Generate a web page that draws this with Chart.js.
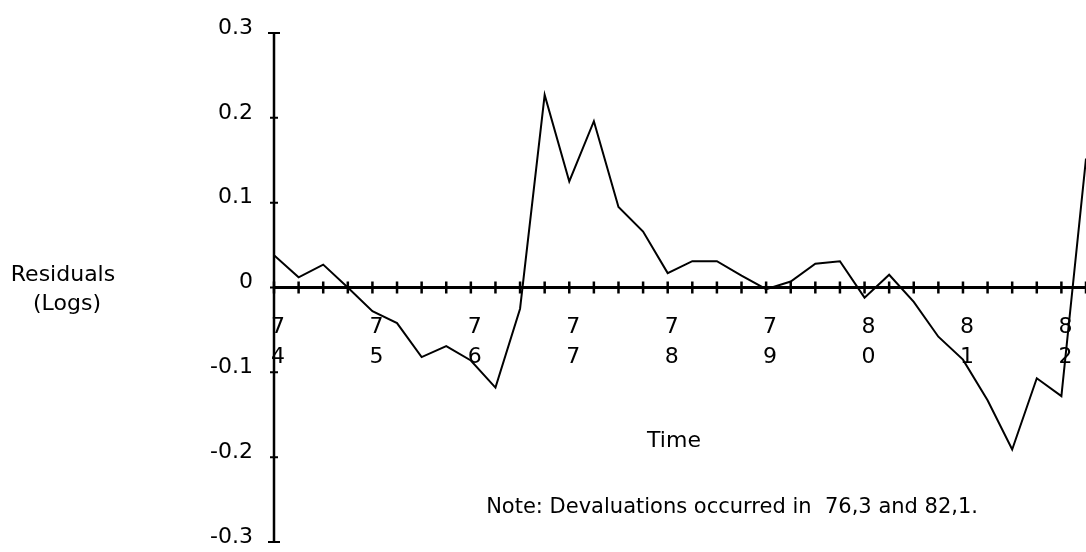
<!DOCTYPE html>
<html>
<head>
<meta charset="utf-8">
<script src="https://cdn.jsdelivr.net/npm/chart.js@4.4.1/dist/chart.umd.min.js"></script>
<style>
  html, body { margin: 0; padding: 0; background: #fff; }
  canvas { display: block; }
</style>
</head>
<body>
<canvas id="myChart" width="1086" height="552"></canvas>
<script>
// quarters 74,1 .. 82,2
const quarters = ['74,1','74,2','74,3','74,4','75,1','75,2','75,3','75,4','76,1','76,2','76,3','76,4',
  '77,1','77,2','77,3','77,4','78,1','78,2','78,3','78,4','79,1','79,2','79,3','79,4',
  '80,1','80,2','80,3','80,4','81,1','81,2','81,3','81,4','82,1','82,2'];
const residuals = [0.038, 0.012, 0.027, 0.0, -0.028, -0.042, -0.082, -0.069, -0.086, -0.118, -0.025, 0.227,
  0.125, 0.196, 0.095, 0.066, 0.017, 0.031, 0.031, 0.014, -0.002, 0.007, 0.028, 0.031,
  -0.012, 0.015, -0.017, -0.058, -0.085, -0.133, -0.191, -0.107, -0.128, 0.152];
const yearLabels = ['74','75','76','77','78','79','80','81','82'];
const yTickLabels = ['-0.3','-0.2','-0.1','0','0.1','0.2','0.3'];

const FONT = "'DejaVu Sans', sans-serif";

// axes drawn by hand so the ticks cross the lines like the original
const axesPlugin = {
  id: 'axes',
  beforeDatasetsDraw(chart) {
    const { ctx, scales: { x, y } } = chart;
    const x0 = x.getPixelForValue(0), x1 = x.getPixelForValue(quarters.length - 1);
    const yTop = y.getPixelForValue(0.3), yBot = y.getPixelForValue(-0.3), yZero = y.getPixelForValue(0);
    ctx.save();
    ctx.strokeStyle = '#000';
    ctx.lineCap = 'butt';

    // y axis
    ctx.lineWidth = 2.5;
    ctx.beginPath();
    ctx.moveTo(x0, yTop); ctx.lineTo(x0, yBot);
    ctx.stroke();
    ctx.lineWidth = 2;
    ctx.beginPath();
    ctx.moveTo(x0 - 6, yTop); ctx.lineTo(x0 + 6, yTop);
    ctx.moveTo(x0 - 6, yBot); ctx.lineTo(x0 + 6, yBot);
    y.ticks.forEach(t => {
      const py = y.getPixelForValue(t.value);
      ctx.moveTo(x0 - 4, py); ctx.lineTo(x0 + 4, py);
    });
    ctx.stroke();

    // x axis at zero
    ctx.lineWidth = 3;
    ctx.beginPath();
    ctx.moveTo(x0, yZero); ctx.lineTo(x1, yZero);
    ctx.stroke();
    ctx.lineWidth = 2.5;
    ctx.beginPath();
    quarters.forEach((q, i) => {
      const px = x.getPixelForValue(i);
      ctx.moveTo(px, yZero - 6); ctx.lineTo(px, yZero + 6);
    });
    ctx.stroke();
    ctx.restore();
  },
  afterDraw(chart) {
    const { ctx } = chart;
    ctx.save();
    ctx.fillStyle = '#000';
    ctx.textAlign = 'center';
    ctx.textBaseline = 'middle';
    ctx.font = '22px ' + FONT;
    ctx.fillText('Residuals', 63, 275);
    ctx.fillText('(Logs)', 67, 304);
    ctx.fillText('Time', 674, 441);
    ctx.font = '21px ' + FONT;
    ctx.textAlign = 'right';
    ctx.fillText('Note: Devaluations occurred in  76,3 and 82,1.', 978, 508);
    ctx.restore();
  }
};

const config = {
  type: 'line',
  data: {
    datasets: [{
      label: 'Residuals',
      data: residuals.map((v, i) => ({ x: i, y: v })),
      borderColor: '#000',
      borderWidth: 2,
      pointRadius: 0,
      tension: 0,
      fill: false
    }]
  },
  options: {
    responsive: false,
    animation: false,
    layout: { padding: { top: 33, bottom: 10, left: 0, right: 0 } },
    plugins: { legend: { display: false }, tooltip: { enabled: false } },
    scales: {
      x: {
        type: 'linear',
        position: { y: 0 },
        min: 0,
        max: quarters.length - 1,
        grid: { display: false },
        border: { display: false },
        afterFit: (s) => { s.paddingLeft = 0; s.paddingRight = 0; },
        ticks: {
          stepSize: 1,
          autoSkip: false,
          maxRotation: 0,
          padding: 17,
          labelOffset: 4,
          color: '#000',
          font: { family: FONT, size: 22, lineHeight: '30px' },
          callback: (v) => {
            const q = quarters[v];
            return q && q.endsWith(',1') ? q.slice(0, 2).split('') : '';
          }
        }
      },
      y: {
        min: -0.3,
        max: 0.3,
        grid: { display: false, drawTicks: false },
        border: { display: false },
        afterFit: (s) => { s.width = 274; s.paddingTop = 0; s.paddingBottom = 0; },
        ticks: {
          stepSize: 0.1,
          padding: 21,
          labelOffset: -5,
          color: '#000',
          font: { family: FONT, size: 22 },
          callback: (v, i) => yTickLabels[i]
        }
      }
    }
  },
  plugins: [axesPlugin]
};

new Chart('myChart', config);
</script>
</body>
</html>
